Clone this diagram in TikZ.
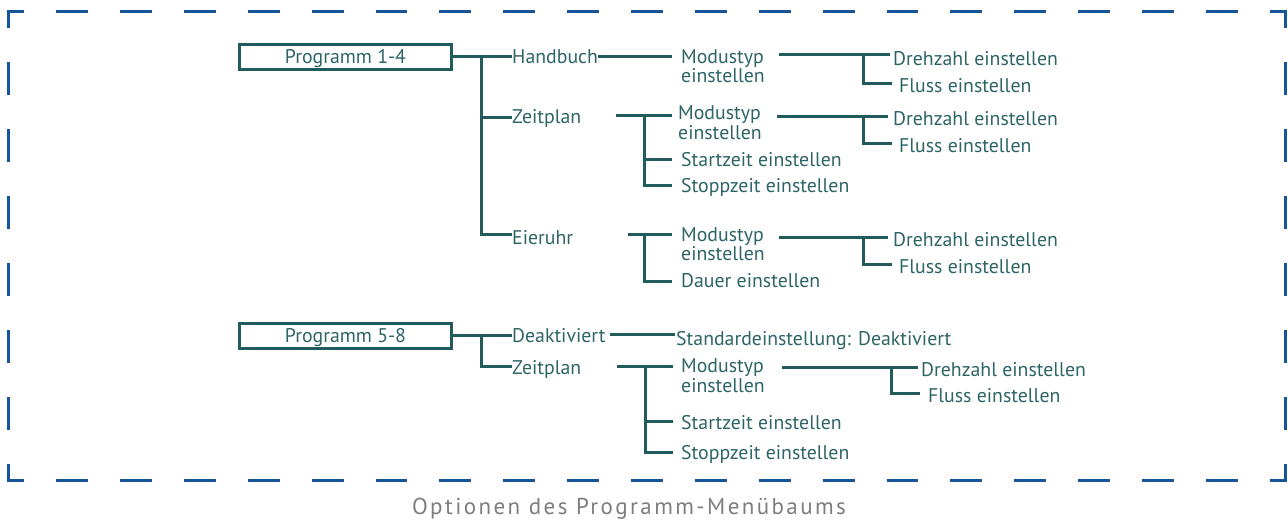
\documentclass[tikz,border=0pt]{standalone}
\usepackage{fontspec}
\setmainfont{PT Sans}
\definecolor{tree}{RGB}{33,91,92}
\definecolor{txt}{RGB}{45,100,102}
\definecolor{frm}{RGB}{22,84,156}
\definecolor{capgray}{RGB}{125,125,125}
\begin{document}
\begin{tikzpicture}[x=1pt,y=-1pt,
  lbl/.style={inner sep=0pt, anchor=base west, text=txt, font=\fontsize{19.8}{18}\selectfont},
  boxnode/.style={draw=tree, line width=3pt, minimum width=212pt, minimum height=25.5pt, inner sep=0pt,
     text=txt, font=\fontsize{19.8}{18}\selectfont, text height=13.9pt, text depth=0pt},
  ln/.style={draw=tree, line width=3pt},
  frame/.style={draw=frm, line width=2.6pt}]
\useasboundingbox (0,0) rectangle (1288,521);
% frame
\draw[frame, dash pattern=on 31.935pt off 31.935pt, dash phase=14.67pt] (7,11.7) -- (1287,11.7);
\draw[frame, dash pattern=on 31.935pt off 31.935pt, dash phase=14.67pt] (7,480.7) -- (1287,480.7);
\draw[frame, dash pattern=on 33.5pt off 33.5pt, dash phase=15.45pt] (8.3,10.4) -- (8.3,482);
\draw[frame, dash pattern=on 33.5pt off 33.5pt, dash phase=15.45pt] (1285.7,10.4) -- (1285.7,482);

\newcommand\twoline[2]{\begin{tabular}[t]{@{}l@{}}#1\\#2\end{tabular}}
% ---------- Programm 1-4
\node[boxnode] (box1) at (345.5,57) {Programm 1-4};
\node[lbl] (hand) at (512,63.5) {Handbuch};
\node[lbl] (zeit1) at (512,124) {Zeitplan};
\node[lbl] (eier) at (512,245) {Eieruhr};
\node[lbl] (mod1) at (681,63.5) {\twoline{Modustyp}{einstellen}};
\node[lbl] (dreh1) at (893,66) {Drehzahl einstellen};
\node[lbl] (fl1) at (899,93) {Fluss einstellen};
\node[lbl] (mod2) at (678,120) {\twoline{Modustyp}{einstellen}};
\node[lbl] (start1) at (681,167) {Startzeit einstellen};
\node[lbl] (stop1) at (681,193) {Stoppzeit einstellen};
\node[lbl] (dreh2) at (893,126) {Drehzahl einstellen};
\node[lbl] (fl2) at (899,153) {Fluss einstellen};
\node[lbl] (mod3) at (681,241.5) {\twoline{Modustyp}{einstellen}};
\node[lbl] (dauer) at (681,288) {Dauer einstellen};
\node[lbl] (dreh3) at (893,247) {Drehzahl einstellen};
\node[lbl] (fl3) at (899,274) {Fluss einstellen};

\coordinate (v1) at ([xshift=28.5pt]box1.east);
\draw[ln] (box1.east) -- ([yshift=6.5pt]hand.base west);
\draw[ln] (v1) |- ([yshift=6pt]zeit1.base west);
\draw[ln] (v1) |- ([yshift=10pt]eier.base west);
\draw[ln] ([yshift=6.5pt]hand.base east) -- ([xshift=-9pt,yshift=6.5pt]mod1.base west);

\coordinate (m1o) at ([xshift=98pt,yshift=8.5pt]mod1.base west);
\coordinate (j1) at ([xshift=-30pt,yshift=11pt]dreh1.base west);
\draw[ln] (m1o) -- ([xshift=-3pt,yshift=11pt]dreh1.base west);
\draw[ln] (j1) |- ([xshift=-7pt,yshift=9pt]fl1.base west);

\coordinate (z1o) at ([xshift=104pt,yshift=8pt]zeit1.base west);
\coordinate (j2) at ([xshift=-34pt,yshift=4pt]mod2.base west);
\draw[ln] (z1o) -- ([xshift=-6pt,yshift=4pt]mod2.base west);
\draw[ln] (j2) |- ([xshift=-9pt,yshift=7.7pt]start1.base west);
\draw[ln] (j2) |- ([xshift=-9pt,yshift=7pt]stop1.base west);

\coordinate (m2o) at ([xshift=99pt,yshift=3pt]mod2.base west);
\coordinate (j3) at ([xshift=-30pt,yshift=9pt]dreh2.base west);
\draw[ln] (m2o) -- ([xshift=-5pt,yshift=9pt]dreh2.base west);
\draw[ln] (j3) |- ([xshift=-7pt,yshift=9pt]fl2.base west);

\coordinate (e1o) at ([xshift=116pt,yshift=10pt]eier.base west);
\coordinate (j4) at ([xshift=-37pt,yshift=6.5pt]mod3.base west);
\draw[ln] (e1o) -- ([xshift=-9pt,yshift=6.5pt]mod3.base west);
\draw[ln] (j4) |- ([xshift=-9pt,yshift=6pt]dauer.base west);

\coordinate (m3o) at ([xshift=98pt,yshift=3.5pt]mod3.base west);
\coordinate (j5) at ([xshift=-30pt,yshift=9pt]dreh3.base west);
\draw[ln] (m3o) -- ([xshift=-5pt,yshift=9pt]dreh3.base west);
\draw[ln] (j5) |- ([xshift=-7pt,yshift=9pt]fl3.base west);

% ---------- Programm 5-8
\node[boxnode] (box2) at (345.5,336) {Programm 5-8};
\node[lbl] (deakt) at (512,342) {Deaktiviert};
\node[lbl] (std) at (676,345) {Standardeinstellung: Deaktiviert};
\node[lbl] (zeit2) at (512,374) {Zeitplan};
\node[lbl] (mod4) at (681,373) {\twoline{Modustyp}{einstellen}};
\node[lbl] (start2) at (681,429.7) {Startzeit einstellen};
\node[lbl] (stop2) at (681,459.7) {Stoppzeit einstellen};
\node[lbl] (dreh4) at (921,376) {Drehzahl einstellen};
\node[lbl] (fl4) at (928,402) {Fluss einstellen};

\coordinate (v2) at ([xshift=28.5pt]box2.east);
\draw[ln] (box2.east) -- (box2.east -| deakt.base west);
\draw[ln] (v2) |- ([yshift=8pt]zeit2.base west);

\coordinate (d1o) at ([xshift=98pt,yshift=7pt]deakt.base west);
\draw[ln] (d1o) -- ([xshift=-1pt,yshift=10pt]std.base west);

\coordinate (z2o) at ([xshift=105pt,yshift=8pt]zeit2.base west);
\coordinate (j6) at ([xshift=-36pt,yshift=7pt]mod4.base west);
\draw[ln] (z2o) -- ([xshift=-8pt,yshift=7pt]mod4.base west);
\draw[ln] (j6) |- ([xshift=-8pt,yshift=8.7pt]start2.base west);
\draw[ln] (j6) |- ([xshift=-8pt,yshift=7.7pt]stop2.base west);

\coordinate (m4o) at ([xshift=101pt,yshift=6pt]mod4.base west);
\coordinate (j7) at ([xshift=-30pt,yshift=9pt]dreh4.base west);
\draw[ln] (m4o) -- ([xshift=-3pt,yshift=9pt]dreh4.base west);
\draw[ln] (j7) |- ([xshift=-8pt,yshift=9pt]fl4.base west);

% caption
\node[text=capgray, inner sep=0pt, font=\fontsize{23}{27}\selectfont\addfontfeatures{LetterSpace=10.5}] (caption) at (629,509) {Optionen des Programm-Menübaums};
\end{tikzpicture}
\end{document}
